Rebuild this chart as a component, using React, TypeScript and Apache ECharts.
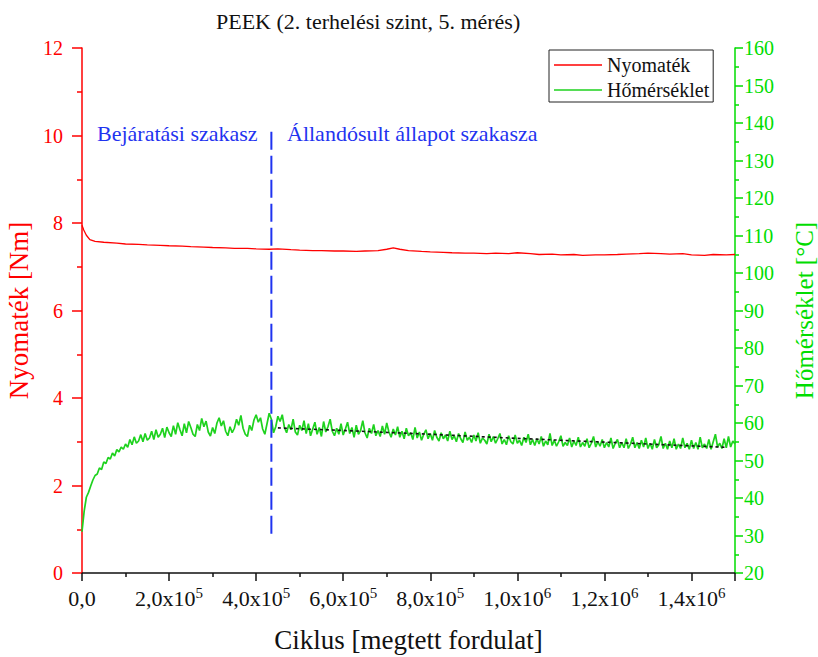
import React, { useEffect, useRef } from "react";
import * as echarts from "echarts";

const titleText = "PEEK (2. terhelési szint, 5. mérés)";
const torqueName = "Nyomaték";
const tempName = "Hőmérséklet";
const xAxisName = "Ciklus [megtett fordulat]";
const leftAxisName = "Nyomaték [Nm]";
const rightAxisName = "Hőmérséklet [°C]";
const phaseLabels = ["Bejáratási szakasz", "Állandósult állapot szakasza"];

const xTickMantissas = ["0,0", "2,0x10", "4,0x10", "6,0x10", "8,0x10", "1,0x10", "1,2x10", "1,4x10"];
const xTickExponents = ["", "5", "5", "5", "5", "6", "6", "6"];

// Torque (Nm) vs cycles
const torqueCycles = [0, 4e3, 1e4, 1.8e4, 3e4, 5e4, 8e4, 1e5, 1.3e5, 1.5e5, 1.8e5, 2e5, 2.3e5, 2.5e5, 2.8e5, 3e5, 3.3e5, 3.5e5, 3.8e5, 4e5, 4.3e5, 4.5e5, 4.8e5, 5e5, 5.3e5, 5.5e5, 5.8e5, 6e5, 6.3e5, 6.5e5, 6.8e5, 7e5, 7.15e5, 7.3e5, 7.5e5, 7.8e5, 8e5, 8.3e5, 8.5e5, 8.8e5, 9e5, 9.3e5, 9.5e5, 9.8e5, 1e6, 1.03e6, 1.05e6, 1.08e6, 1.1e6, 1.13e6, 1.15e6, 1.18e6, 1.2e6, 1.23e6, 1.25e6, 1.28e6, 1.3e6, 1.33e6, 1.35e6, 1.38e6, 1.4e6, 1.43e6, 1.45e6, 1.48e6, 1.5e6];
const torqueValues = [7.95, 7.84, 7.72, 7.62, 7.58, 7.56, 7.54, 7.52, 7.51, 7.5, 7.49, 7.48, 7.47, 7.46, 7.45, 7.44, 7.43, 7.42, 7.42, 7.41, 7.4, 7.41, 7.39, 7.38, 7.37, 7.37, 7.36, 7.36, 7.35, 7.36, 7.37, 7.40, 7.43, 7.40, 7.37, 7.35, 7.34, 7.33, 7.32, 7.31, 7.31, 7.30, 7.31, 7.30, 7.32, 7.30, 7.28, 7.29, 7.27, 7.28, 7.26, 7.27, 7.27, 7.28, 7.29, 7.30, 7.31, 7.30, 7.29, 7.30, 7.27, 7.26, 7.28, 7.27, 7.28];

// Temperature (°C) every 5e3 cycles from 0 to 1.5e6
const tempStep = 5e3;
const tempValues = [
  // 0 – 1.0e5
  31.0, 36.5, 40.2, 41.5, 43.2, 44.8, 46.0, 46.4, 48.0, 47.6, 49.6, 49.2, 50.8, 50.4, 52.0, 51.2, 52.9, 52.3, 53.6, 53.0, 54.4,
  // 1.05e5 – 2.0e5
  53.5, 55.6, 54.2, 56.3, 54.6, 55.2, 56.9, 55.0, 57.2, 55.4, 56.0, 57.8, 55.6, 58.2, 56.2, 57.0, 58.6, 56.1, 58.9, 57.4,
  // 2.05e5 – 4.3e5
  56.4, 59.3, 57.0, 60.1, 58.2, 56.6, 59.8, 57.4, 60.4, 58.8,
  57.0, 56.4, 59.6, 58.0, 61.2, 59.0, 60.5, 57.6, 56.5, 58.8,
  57.2, 60.0, 61.4, 59.2, 60.6, 57.8, 56.6, 59.0, 57.4, 58.6,
  61.0, 59.4, 62.0, 58.6, 57.0, 56.4, 59.4, 58.0, 60.8, 62.2,
  60.2, 61.4, 58.4, 57.0, 59.8, 62.6,
  // 4.35e5 – 4.4e5
  61.0, 57.4,
  // 4.45e5 – 1.5e6
  59.0, 61.8, 60.4, 62.2, 58.8, 57.4, 59.6, 58.2, 61.0, 57.6,
  56.8, 59.4, 58.0, 60.6, 57.2, 59.8, 56.6, 58.4, 60.2, 57.0,
  58.8, 56.4, 60.4, 57.6, 59.0, 61.0, 57.8, 56.6, 58.6, 57.0,
  59.8, 56.8, 58.4, 60.2, 57.2, 58.8, 56.2, 59.4, 57.0, 58.0,
  60.6, 57.4, 56.0, 58.6, 57.2, 59.6, 56.6, 58.0, 56.4, 59.2,
  57.0, 60.0, 57.6, 56.2, 58.4, 56.8, 59.0, 56.2, 57.8, 55.8,
  58.6, 56.6, 57.4, 55.6, 58.8, 56.0, 57.6, 55.4, 57.0, 58.2,
  55.8, 57.2, 55.4, 58.0, 56.2, 55.2, 57.4, 55.8, 56.8, 55.2,
  57.8, 55.6, 56.6, 55.0, 57.2, 55.8, 54.8, 57.6, 55.4, 56.2,
  54.8, 56.8, 55.2, 57.4, 54.6, 56.0, 55.4, 54.4, 57.0, 55.0,
  56.4, 54.6, 55.8, 57.2, 54.4, 55.6, 54.2, 56.6, 55.0, 54.4,
  56.8, 54.6, 55.4, 54.0, 56.2, 54.8, 57.0, 54.2, 55.6, 54.0,
  55.8, 54.4, 56.4, 53.8, 55.2, 54.2, 57.2, 54.0, 55.4, 53.8,
  55.0, 56.6, 53.8, 54.8, 54.0, 56.0, 53.6, 55.2, 54.0, 56.2,
  53.6, 54.8, 53.8, 55.8, 53.4, 54.6, 56.4, 53.6, 55.0, 53.8,
  55.6, 53.4, 54.8, 53.6, 56.0, 53.2, 54.6, 55.6, 53.4, 54.8,
  53.4, 55.8, 53.2, 54.4, 56.2, 53.4, 54.8, 53.2, 55.4, 53.6,
  56.0, 53.2, 54.6, 53.0, 55.6, 53.4, 54.2, 56.4, 53.2, 54.6,
  53.0, 55.2, 53.4, 55.8, 53.0, 54.4, 53.2, 56.0, 53.4, 54.6,
  53.0, 55.4, 53.2, 54.8, 53.0, 56.2, 53.4, 54.4, 53.2, 55.6,
  53.0, 55.0, 57.0, 53.6, 54.6, 53.2, 55.8, 53.4, 56.4, 53.6,
  55.2, 54.4
];

// Linear trend in the steady-state phase (°C)
const trendCycles = [4.5e5, 6e5, 8e5, 1e6, 1.2e6, 1.48e6];
const trendValues = [58.7, 58.0, 57.0, 55.9, 54.9, 53.5];

// Phase boundary (cycles) and its vertical extent on the torque axis
const boundaryCycle = 4.35e5;
const boundaryExtent = [0.9, 10.1];

const SERIF = "'Liberation Serif', 'Times New Roman', serif";
const RED = "#ff0000";
const GREEN_AXIS = "#00dd00";
const GREEN_LINE = "#1ed21e";
const BLUE = "#1f33f0";

export default function App() {
  const ref = useRef<HTMLDivElement>(null);
  useEffect(() => {
    if (!ref.current) return;
    const chart = echarts.init(ref.current, null, { renderer: "svg" });
    const torqueData = torqueCycles.map((c, i) => [c, torqueValues[i]]);
    const tempData = tempValues.map((v, i) => [i * tempStep, v]);
    const trendData = trendCycles.map((c, i) => [c, trendValues[i]]);
    const boundaryData = boundaryExtent.map((v) => [boundaryCycle, v]);

    chart.setOption({
      animation: false,
      backgroundColor: "#ffffff",
      textStyle: { fontFamily: SERIF },
      title: {
        text: titleText,
        left: 211,
        top: 5,
        textStyle: { fontFamily: SERIF, fontSize: 22, fontWeight: "normal", color: "#111" },
      },
      legend: {
        data: [torqueName, tempName],
        orient: "vertical",
        left: 549,
        top: 50,
        padding: [5, 4, 2, 5],
        icon: "rect",
        itemWidth: 48,
        itemHeight: 1.5,
        itemGap: 5,
        borderColor: "#222",
        borderWidth: 1,
        borderRadius: 0,
        textStyle: { fontFamily: SERIF, fontSize: 20, lineHeight: 20, color: "#111" },
      },
      grid: { left: 82, right: 83, top: 48, bottom: 84, containLabel: false, outerBoundsMode: "none" },
      xAxis: {
        type: "value",
        min: 0,
        max: 1.5e6,
        interval: 2e5,
        name: xAxisName,
        nameLocation: "middle",
        nameGap: 53,
        nameTextStyle: { fontFamily: SERIF, fontSize: 27, color: "#111" },
        axisLine: { show: true, onZero: false, lineStyle: { color: "#111", width: 1.5 } },
        axisTick: { show: true, length: 8, lineStyle: { color: "#111", width: 1.5 } },
        minorTick: { show: true, splitNumber: 2, length: 4, lineStyle: { color: "#111", width: 1.5 } },
        splitLine: { show: false },
        axisLabel: {
          margin: 13,
          formatter: (v: number) => {
            const i = Math.round(v / 2e5);
            const m = xTickMantissas[i] ?? "";
            const e = xTickExponents[i] ?? "";
            return e ? `{b|${m}}{s|${e}}` : `{b|${m}}`;
          },
          rich: {
            b: { fontFamily: SERIF, fontSize: 22, color: "#111", lineHeight: 24 },
            s: { fontFamily: SERIF, fontSize: 15, color: "#111", lineHeight: 24, padding: [0, 0, 10, 0] },
          },
        },
      },
      yAxis: [
        {
          type: "value",
          position: "left",
          min: 0,
          max: 12,
          interval: 2,
          name: leftAxisName,
          nameLocation: "middle",
          nameRotate: 90,
          nameGap: 44,
          nameTextStyle: { fontFamily: SERIF, fontSize: 27, color: RED },
          axisLine: { show: true, lineStyle: { color: RED, width: 1.5 } },
          axisTick: { show: true, length: 10, lineStyle: { color: RED, width: 1.5 } },
          minorTick: { show: true, splitNumber: 2, length: 5, lineStyle: { color: RED, width: 1.5 } },
          splitLine: { show: false },
          axisLabel: { margin: 19, fontFamily: SERIF, fontSize: 20, color: RED },
        },
        {
          type: "value",
          position: "right",
          min: 20,
          max: 160,
          interval: 10,
          name: rightAxisName,
          nameLocation: "middle",
          nameRotate: 90,
          nameGap: 57,
          nameTextStyle: { fontFamily: SERIF, fontSize: 25, color: GREEN_AXIS },
          axisLine: { show: true, lineStyle: { color: GREEN_AXIS, width: 1.5 } },
          axisTick: { show: true, length: 8, lineStyle: { color: GREEN_AXIS, width: 1.5 } },
          minorTick: { show: true, splitNumber: 2, length: 4, lineStyle: { color: GREEN_AXIS, width: 1.5 } },
          splitLine: { show: false },
          axisLabel: { margin: 9, fontFamily: SERIF, fontSize: 20, color: GREEN_AXIS },
        },
      ],
      graphic: [
        {
          type: "text",
          left: 97,
          top: 122,
          style: { text: phaseLabels[0], fontFamily: SERIF, fontSize: 22, fill: BLUE },
        },
        {
          type: "text",
          left: 287,
          top: 122,
          style: { text: phaseLabels[1], fontFamily: SERIF, fontSize: 22, fill: BLUE },
        },
      ],
      series: [
        {
          name: torqueName,
          type: "line",
          yAxisIndex: 0,
          data: torqueData,
          showSymbol: false,
          symbol: "none",
          lineStyle: { color: RED, width: 1.3 },
          itemStyle: { color: RED },
          z: 3,
        },
        {
          name: tempName,
          type: "line",
          yAxisIndex: 1,
          data: tempData,
          showSymbol: false,
          symbol: "none",
          lineStyle: { color: GREEN_LINE, width: 1.7 },
          itemStyle: { color: GREEN_LINE },
          z: 3,
        },
        {
          name: "trend",
          type: "line",
          yAxisIndex: 1,
          data: trendData,
          showSymbol: false,
          symbol: "none",
          lineStyle: { color: "#111", width: 1.6, type: [3, 3] },
          z: 4,
        },
        {
          name: "boundary",
          type: "line",
          yAxisIndex: 0,
          data: boundaryData,
          showSymbol: false,
          symbol: "none",
          lineStyle: { color: BLUE, width: 2, type: [18, 6] },
          z: 5,
        },
      ],
    });
    return () => chart.dispose();
  }, []);
  return <div ref={ref} style={{ width: 818, height: 657, position: "absolute", left: 0, top: 0 }} />;
}
